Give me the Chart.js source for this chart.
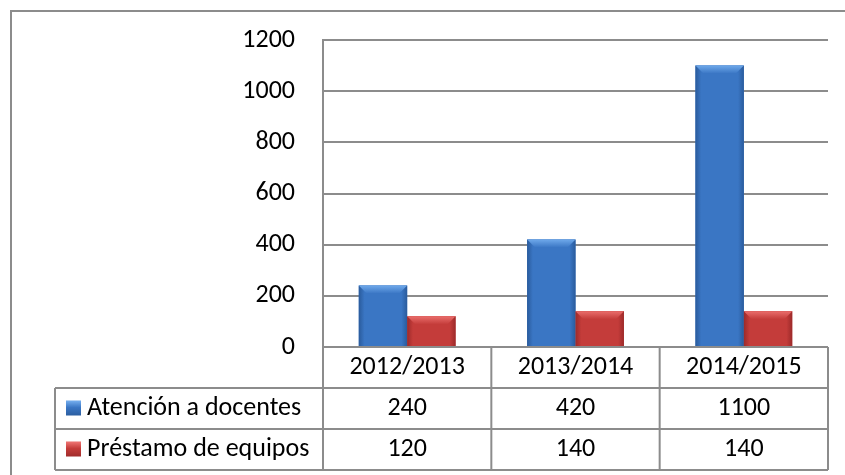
<!DOCTYPE html>
<html>
    <head>
        <title>Atención a docentes</title>
        <meta charset="UTF-8">
        <style>
            body {
                margin: 0;
                background: #fff;
            }
            #chartContainer {
                width: 845px;
                height: 475px;
            }
        </style>
    </head>
    <body>
        <div id="chartContainer">
            <canvas id="myChart" width="845" height="475"></canvas>
        </div>

        <script src="https://cdn.jsdelivr.net/npm/chart.js@4.4.0/dist/chart.umd.min.js"></script>
        <script>
            var categories = ['2012/2013', '2013/2014', '2014/2015'];
            var atencion = [240, 420, 1100];
            var prestamo = [120, 140, 140];
            var seriesNames = ['Atención a docentes', 'Préstamo de equipos'];
            var yTicks = [0, 200, 400, 600, 800, 1000, 1200];

            var fontFamily = 'Carlito, Lato, "Open Sans", sans-serif';
            var fontSize = 26;
            var lineColor = '#8c8c8c';
            var palette = [
                {base: '#3a76c4', dark: '#2a5b9c', light: '#6ea8ea'},
                {base: '#c43c3a', dark: '#9c2a2a', light: '#ea6e6c'}
            ];

            function barFill(ctx, left, right, c) {
                var g = ctx.createLinearGradient(left, 0, right, 0);
                g.addColorStop(0, c.dark);
                g.addColorStop(0.12, c.base);
                g.addColorStop(0.5, c.base);
                g.addColorStop(0.88, c.base);
                g.addColorStop(1, c.dark);
                return g;
            }

            // gradient + bevelled top on each bar
            var bevelPlugin = {
                id: 'bevel',
                afterDatasetsDraw: function (chart) {
                    var ctx = chart.ctx;
                    chart.data.datasets.forEach(function (ds, di) {
                        var c = palette[di];
                        chart.getDatasetMeta(di).data.forEach(function (bar) {
                            var p = bar.getProps(['x', 'y', 'base', 'width'], true);
                            var left = p.x - p.width / 2, right = p.x + p.width / 2;
                            var top = p.y, bottom = p.base;
                            var b = Math.min(8, (bottom - top) / 2);
                            ctx.save();
                            ctx.fillStyle = barFill(ctx, left, right, c);
                            ctx.fillRect(left, top, right - left, bottom - top);
                            var tg = ctx.createLinearGradient(0, top, 0, top + b);
                            tg.addColorStop(0, c.light);
                            tg.addColorStop(1, c.base);
                            ctx.fillStyle = tg;
                            ctx.beginPath();
                            ctx.moveTo(left, top);
                            ctx.lineTo(right, top);
                            ctx.lineTo(right - b, top + b);
                            ctx.lineTo(left + b, top + b);
                            ctx.closePath();
                            ctx.fill();
                            ctx.restore();
                        });
                    });
                }
            };

            // data table under the plot + outer frame
            var tablePlugin = {
                id: 'dataTable',
                afterDraw: function (chart) {
                    var ctx = chart.ctx;
                    var area = chart.chartArea;
                    var x = chart.scales.x;
                    var n = categories.length;
                    var step = (x.right - x.left) / n;
                    var rowH = 41;
                    var rows = [area.bottom, area.bottom + rowH, area.bottom + 2 * rowH, area.bottom + 3 * rowH];
                    var legendLeft = 55;

                    ctx.save();
                    ctx.strokeStyle = lineColor;
                    ctx.lineWidth = 2;

                    // outer frame
                    ctx.strokeRect(11, 11, 900, 600);

                    ctx.beginPath();
                    ctx.moveTo(area.left, rows[0]);
                    ctx.lineTo(area.right, rows[0]);
                    for (var r = 1; r < rows.length; r++) {
                        ctx.moveTo(legendLeft, rows[r]);
                        ctx.lineTo(area.right, rows[r]);
                    }
                    ctx.moveTo(legendLeft, rows[1]);
                    ctx.lineTo(legendLeft, rows[3]);
                    for (var i = 0; i <= n; i++) {
                        var cx = x.left + i * step;
                        ctx.moveTo(cx, rows[0]);
                        ctx.lineTo(cx, rows[3]);
                    }
                    ctx.stroke();

                    ctx.fillStyle = '#000';
                    ctx.font = fontSize + 'px ' + fontFamily;
                    ctx.textBaseline = 'middle';
                    ctx.textAlign = 'center';
                    var values = [atencion, prestamo];
                    for (var j = 0; j < n; j++) {
                        var mid = x.getPixelForValue(j);
                        ctx.fillText(categories[j], mid, (rows[0] + rows[1]) / 2);
                        ctx.fillText(String(values[0][j]), mid, (rows[1] + rows[2]) / 2);
                        ctx.fillText(String(values[1][j]), mid, (rows[2] + rows[3]) / 2);
                    }

                    ctx.textAlign = 'left';
                    for (var s = 0; s < seriesNames.length; s++) {
                        var cy = (rows[s + 1] + rows[s + 2]) / 2;
                        var c = palette[s];
                        var g = ctx.createLinearGradient(0, cy - 7, 0, cy + 8);
                        g.addColorStop(0, c.light);
                        g.addColorStop(0.4, c.base);
                        g.addColorStop(1, c.dark);
                        ctx.fillStyle = g;
                        ctx.fillRect(66, cy - 8, 15, 15);
                        ctx.fillStyle = '#000';
                        ctx.fillText(seriesNames[s], 87, cy);
                    }
                    ctx.restore();
                }
            };

            var ctx = document.getElementById('myChart');
            var myChart = new Chart(ctx, {
                type: 'bar',
                data: {
                    labels: categories,
                    datasets: [
                        {
                            label: seriesNames[0],
                            data: atencion,
                            backgroundColor: palette[0].base
                        },
                        {
                            label: seriesNames[1],
                            data: prestamo,
                            backgroundColor: palette[1].base
                        }
                    ]
                },
                options: {
                    responsive: false,
                    animation: false,
                    layout: {
                        padding: {left: 0, top: 40, right: 17, bottom: 128}
                    },
                    plugins: {
                        legend: {display: false},
                        tooltip: {enabled: false}
                    },
                    datasets: {
                        bar: {
                            barPercentage: 1,
                            categoryPercentage: 0.575
                        }
                    },
                    scales: {
                        x: {
                            display: false
                        },
                        y: {
                            min: 0,
                            max: 1200,
                            afterFit: function (scale) {
                                scale.width = 323;
                                scale.paddingTop = 0;
                                scale.paddingBottom = 0;
                            },
                            afterBuildTicks: function (scale) {
                                scale.ticks = yTicks.map(function (v) { return {value: v}; });
                            },
                            grid: {
                                color: lineColor,
                                lineWidth: 2,
                                drawTicks: false
                            },
                            border: {
                                display: true,
                                color: lineColor,
                                width: 2
                            },
                            ticks: {
                                padding: 28,
                                color: '#000',
                                font: {family: fontFamily, size: fontSize},
                                callback: function (value) {
                                    return String(value);
                                }
                            }
                        }
                    }
                },
                plugins: [bevelPlugin, tablePlugin]
            });
        </script>
    </body>
</html>
